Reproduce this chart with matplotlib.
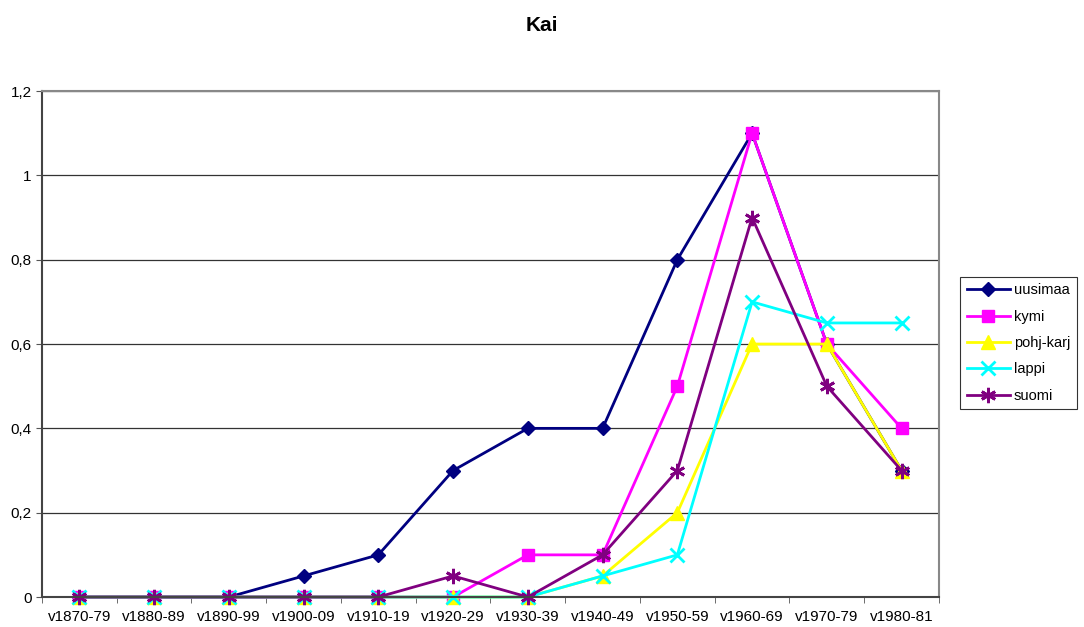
import matplotlib

matplotlib.use("Agg")
import matplotlib.pyplot as plt
from matplotlib.ticker import FixedLocator, FuncFormatter

plt.rcParams["font.family"] = ["Liberation Sans", "DejaVu Sans"]

periods = ["v1870-79", "v1880-89", "v1890-99", "v1900-09", "v1910-19", "v1920-29",
           "v1930-39", "v1940-49", "v1950-59", "v1960-69", "v1970-79", "v1980-81"]

uusimaa = [0, 0, 0, 0.05, 0.1, 0.3, 0.4, 0.4, 0.8, 1.1, 0.6, 0.3]
kymi = [0, 0, 0, 0, 0, 0, 0.1, 0.1, 0.5, 1.1, 0.6, 0.4]
pohj_karj = [0, 0, 0, 0, 0, 0, 0, 0.05, 0.2, 0.6, 0.6, 0.3]
lappi = [0, 0, 0, 0, 0, 0, 0, 0.05, 0.1, 0.7, 0.65, 0.65]
suomi = [0, 0, 0, 0, 0, 0.05, 0, 0.1, 0.3, 0.9, 0.5, 0.3]

# name -> (values, color, marker, size)
SERIES = [
    ("uusimaa", uusimaa, "#000080", "D", 7),
    ("kymi", kymi, "#ff00ff", "s", 8.5),
    ("pohj-karj", pohj_karj, "#ffff00", "^", 9.5),
    ("lappi", lappi, "#00ffff", "x", 9.5),
    ("suomi", suomi, "#800080", (6, 2, 0), 11),
]

fig = plt.figure(figsize=(10.84, 6.27), dpi=100)
ax = fig.add_axes([0.0387, 0.0478, 0.8275, 0.807])

x = list(range(len(periods)))
for name, vals, color, marker, ms in SERIES:
    mew = 2 if marker in ("x", (6, 2, 0)) else 1
    ax.plot(x, vals, "-", color=color, lw=2, marker=marker, ms=ms,
            mec=color, mfc=color, mew=mew, label=name, clip_on=False)

ax.set_xlim(-0.5, len(periods) - 0.5)
ax.set_ylim(0, 1.2)
ax.set_yticks([0, 0.2, 0.4, 0.6, 0.8, 1.0, 1.2])
ax.yaxis.set_major_formatter(FuncFormatter(lambda v, p: f"{v:g}".replace(".", ",")))
ax.set_xticks(x)
ax.set_xticklabels(periods)
ax.xaxis.set_minor_locator(FixedLocator([i + 0.5 for i in range(-1, len(periods))]))
ax.tick_params(axis="x", which="major", length=0, labelsize=11, pad=9)
ax.tick_params(axis="x", which="minor", length=4, direction="out", color="#555555")
ax.tick_params(axis="y", length=4, direction="out", labelsize=11, color="#555555")

ax.grid(axis="y", color="#333333", lw=0.9)
ax.set_axisbelow(True)
for side in ("left", "bottom"):
    ax.spines[side].set_color("#444444")
    ax.spines[side].set_linewidth(1.5)
for side in ("top", "right"):
    ax.spines[side].set_color("#888888")
    ax.spines[side].set_linewidth(1.5)

leg = ax.legend(loc="center left", bbox_to_anchor=(1.0234, 0.502), fontsize=10.5,
                frameon=True, fancybox=False, edgecolor="black",
                handlelength=3.0, borderpad=0.45, borderaxespad=0.0,
                labelspacing=0.85, handletextpad=0.25)
leg.get_frame().set_linewidth(0.8)

fig.suptitle("Kai", fontsize=15, fontweight="bold", y=0.975)
fig.savefig("out.png", dpi=100)
